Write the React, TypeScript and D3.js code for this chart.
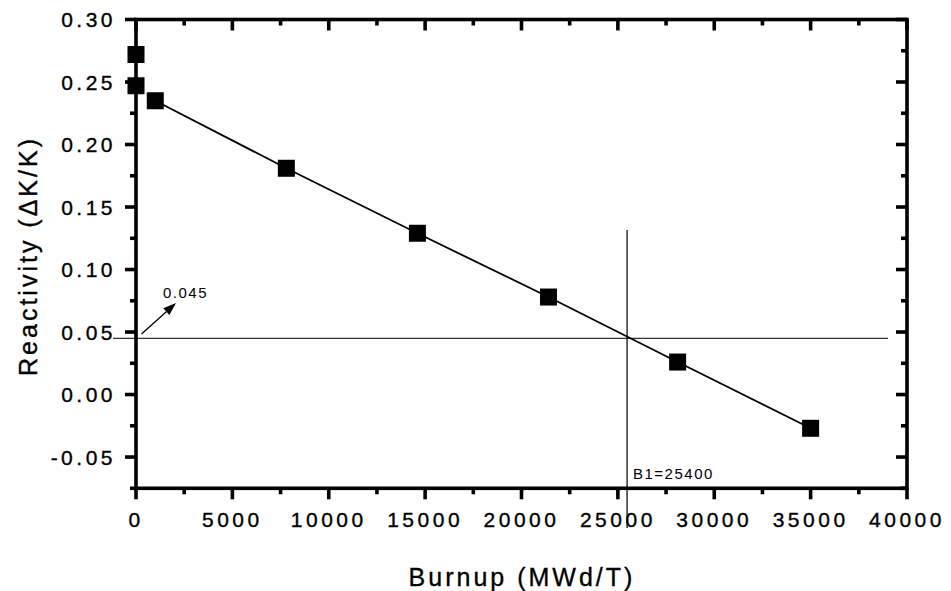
import React from "react";
import * as d3 from "d3";

const burnup = [0, 0, 1000, 7800, 14600, 21400, 28100, 35000];
const reactivity = [0.272, 0.247, 0.235, 0.181, 0.129, 0.078, 0.026, -0.027];
const lineStartIndex = 2;
const xMajorTicks = [0, 5000, 10000, 15000, 20000, 25000, 30000, 35000, 40000];
const xMinorTicks = [2500, 7500, 12500, 17500, 22500, 27500, 32500, 37500];
const yMajorTicks = [-0.05, 0, 0.05, 0.1, 0.15, 0.2, 0.25, 0.3];
const yMinorTicks = [-0.075, -0.025, 0.025, 0.075, 0.125, 0.175, 0.225, 0.275];
const refReactivity = 0.045;
const refBurnup = 25400;
const xTitle = "Burnup (MWd/T)";
const yTitle = "Reactivity (\u0394K/K)";

export default function App() {
  const W = 951, H = 591;
  const left = 136, right = 907, top = 19.5, bottom = 488.3;
  const x = d3.scaleLinear().domain([0, 40000]).range([left, right]);
  const y = d3.scaleLinear().domain([-0.075, 0.3]).range([bottom, top]);
  const font = "Arimo, 'Liberation Sans', Arial, sans-serif";
  const pts = burnup.map((b, i) => [b, reactivity[i]] as [number, number]);
  const line = d3.line<[number, number]>().x(d => x(d[0])).y(d => y(d[1]));
  const linePts = pts.slice(lineStartIndex);
  const sq = 17;
  const majLen = 11, minLen = 6;
  const sw = 3.6;
  const yRef = y(refReactivity);
  const xRef = x(refBurnup);
  const fmtY = (v: number) => d3.format(".2f")(v).replace("\u2212", "-");
  // arrow
  const ax1 = 141.5, ay1 = 334, ax2 = 176, ay2 = 303;
  const ang = Math.atan2(ay2 - ay1, ax2 - ax1);
  const hl = 13, hw = 4.5;
  const bx = ax2 - hl * Math.cos(ang), by = ay2 - hl * Math.sin(ang);
  const px = -Math.sin(ang), py = Math.cos(ang);
  const head = `M${ax2},${ay2}L${bx + px * hw},${by + py * hw}L${bx - px * hw},${by - py * hw}Z`;
  const textStyle = { stroke: "#000", strokeWidth: 0.35 } as React.CSSProperties;

  return (
    <svg width={W} height={H} style={{ position: "absolute", left: 0, top: 0, background: "#fff" }} fontFamily={font}>
      <rect width={W} height={H} fill="#fff" />
      {/* reference lines */}
      <line x1={113} x2={888} y1={yRef} y2={yRef} stroke="#333" strokeWidth={1.3} />
      <line x1={xRef + 1.5} x2={xRef + 1.5} y1={230} y2={528} stroke="#111" strokeWidth={1.3} />
      {/* data line */}
      <path d={line(linePts) || ""} fill="none" stroke="#000" strokeWidth={1.8} />
      {pts.map((p, i) => (
        <rect key={i} x={x(p[0]) - sq / 2} y={y(p[1]) - sq / 2} width={sq} height={sq} fill="#000" />
      ))}
      {/* frame */}
      <rect x={left} y={top} width={right - left} height={bottom - top} fill="none" stroke="#000" strokeWidth={sw} />
      {/* x ticks */}
      {xMajorTicks.map(t => (
        <g key={"xM" + t}>
          <line x1={x(t)} x2={x(t)} y1={bottom} y2={bottom + majLen} stroke="#000" strokeWidth={sw} />
          <line x1={x(t)} x2={x(t)} y1={top} y2={top + majLen} stroke="#000" strokeWidth={sw} />
          <text x={x(t)} y={527} textAnchor="middle" fontSize={21} letterSpacing={3.5} fill="#000" style={textStyle}>{d3.format("d")(t)}</text>
        </g>
      ))}
      {xMinorTicks.map(t => (
        <g key={"xm" + t}>
          <line x1={x(t)} x2={x(t)} y1={bottom} y2={bottom + minLen} stroke="#000" strokeWidth={sw} />
          <line x1={x(t)} x2={x(t)} y1={top} y2={top + minLen} stroke="#000" strokeWidth={sw} />
        </g>
      ))}
      {/* y ticks */}
      {yMajorTicks.map(t => (
        <g key={"yM" + t}>
          <line x1={left} x2={left - majLen} y1={y(t)} y2={y(t)} stroke="#000" strokeWidth={sw} />
          <line x1={right} x2={right - majLen} y1={y(t)} y2={y(t)} stroke="#000" strokeWidth={sw} />
          <text x={116} y={y(t) + 7.5} textAnchor="end" fontSize={21} letterSpacing={3.5} fill="#000" style={textStyle}>{fmtY(t)}</text>
        </g>
      ))}
      {yMinorTicks.map(t => (
        <g key={"ym" + t}>
          <line x1={left} x2={left - minLen} y1={y(t)} y2={y(t)} stroke="#000" strokeWidth={sw} />
          <line x1={right} x2={right - minLen} y1={y(t)} y2={y(t)} stroke="#000" strokeWidth={sw} />
        </g>
      ))}
      {/* annotations */}
      <line x1={ax1} y1={ay1} x2={bx} y2={by} stroke="#000" strokeWidth={1.3} />
      <path d={head} fill="#000" />
      <text x={163} y={298} fontSize={15} letterSpacing={1.5} fill="#000">0.045</text>
      <text x={633} y={479} fontSize={15} letterSpacing={1.5} fill="#000">B1=25400</text>
      {/* titles */}
      <text x={522} y={586} textAnchor="middle" fontSize={25} letterSpacing={3} fill="#000" style={textStyle}>{xTitle}</text>
      <text transform={`translate(37,256) rotate(-90)`} textAnchor="middle" fontSize={25} letterSpacing={3} fill="#000" style={textStyle}>{yTitle}</text>
    </svg>
  );
}
